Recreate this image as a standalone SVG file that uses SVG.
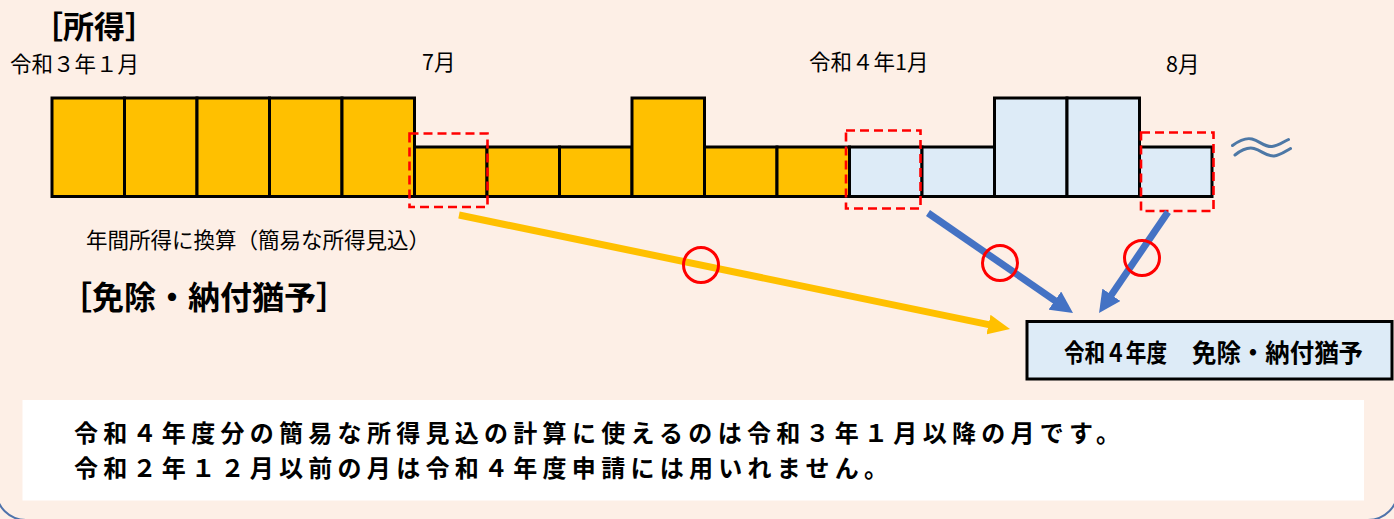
<svg xmlns="http://www.w3.org/2000/svg" width="1394" height="519" viewBox="0 0 1394 519">
<style>
.jp{font-family:"Noto Sans CJK JP","Noto Sans",sans-serif;fill:#000}
.b{font-weight:700}
.yb{fill:#FFC000;stroke:#000;stroke-width:3}
.bb{fill:#DDEBF7;stroke:#000;stroke-width:3}
.dash{fill:none;stroke:#FF0000;stroke-width:2.6;stroke-dasharray:9 5}
.ring{fill:none;stroke:#FF0000;stroke-width:3}
.wave{fill:none;stroke:#4D78A6;stroke-width:3;stroke-linecap:round}
</style>
<defs>
<marker id="ahY" markerUnits="userSpaceOnUse" markerWidth="22" markerHeight="20" refX="4" refY="10" orient="auto" viewBox="0 0 22 20"><path d="M0,0 L22,10 L0,20 z" fill="#FFC000"/></marker>
<marker id="ahB" markerUnits="userSpaceOnUse" markerWidth="22" markerHeight="22" refX="4" refY="11" orient="auto" viewBox="0 0 22 22"><path d="M0,0 L22,11 L0,22 z" fill="#4472C4"/></marker>
</defs>
<rect x="0" y="0" width="1394" height="519" fill="#FDEFE6"/>
<path d="M-4,490 A30,30 0 0 0 26,520 M1368,520 A30,30 0 0 0 1398,490" fill="none" stroke="#4F73AB" stroke-width="2"/>

<g id="title-income"><text class="jp b" x="32" y="37.5" font-size="31">［所得］</text></g>
<g id="label-r3-jan"><text class="jp" x="10" y="72" font-size="21.5">令和３年１月</text></g>
<g id="label-jul"><text class="jp" x="422" y="70" font-size="21.5">7月</text></g>
<g id="label-r4-jan"><text class="jp" x="809" y="70" font-size="21.5">令和４年1月</text></g>
<g id="label-aug"><text class="jp" x="1166" y="72" font-size="21.5">8月</text></g>

<g id="bars">
<g id="bar-01"><rect class="yb" x="52" y="98" width="72.5" height="98.5"/></g>
<g id="bar-02"><rect class="yb" x="124.5" y="98" width="72.5" height="98.5"/></g>
<g id="bar-03"><rect class="yb" x="197" y="98" width="72.5" height="98.5"/></g>
<g id="bar-04"><rect class="yb" x="269.5" y="98" width="72.5" height="98.5"/></g>
<g id="bar-05"><rect class="yb" x="342" y="98" width="72.5" height="98.5"/></g>
<g id="bar-06"><rect class="yb" x="414.5" y="147" width="72.5" height="49.5"/></g>
<g id="bar-07"><rect class="yb" x="487" y="147" width="72.5" height="49.5"/></g>
<g id="bar-08"><rect class="yb" x="559.5" y="147" width="72.5" height="49.5"/></g>
<g id="bar-09"><rect class="yb" x="632" y="98" width="72.5" height="98.5"/></g>
<g id="bar-10"><rect class="yb" x="704.5" y="147" width="72.5" height="49.5"/></g>
<g id="bar-11"><rect class="yb" x="777" y="147" width="72.5" height="49.5"/></g>
<g id="bar-12"><rect class="bb" x="849.5" y="147" width="72.5" height="49.5"/></g>
<g id="bar-13"><rect class="bb" x="922" y="147" width="72.5" height="49.5"/></g>
<g id="bar-14"><rect class="bb" x="994.5" y="98" width="72.5" height="98.5"/></g>
<g id="bar-15"><rect class="bb" x="1067" y="98" width="72.5" height="98.5"/></g>
<g id="bar-16"><rect class="bb" x="1139.5" y="147" width="72.5" height="49.5"/></g>
</g>

<g id="highlight-jul"><rect class="dash" x="409.5" y="133.5" width="78" height="73.5"/></g>
<g id="highlight-r4-jan"><rect class="dash" x="846" y="130.5" width="74.5" height="78"/></g>
<g id="highlight-aug"><rect class="dash" x="1141" y="132.5" width="72.5" height="78.5"/></g>

<g id="wave-mark">
<path class="wave" d="M1232.5,145.5 C1240,140 1246,137.5 1252,139 C1260,141 1264,147 1272,146.5 C1278,146 1283,142 1288.5,139.5"/>
<path class="wave" d="M1235,155 C1242,149.5 1248,147 1254,148.5 C1262,150.5 1266,156.5 1274,156 C1280,155.5 1285,151.5 1290.5,148.5"/>
</g>

<g id="label-annualize"><text class="jp" x="86" y="248" font-size="21.5">年間所得に換算（簡易な所得見込）</text></g>
<g id="title-exemption"><text class="jp b" x="60" y="308.5" font-size="32">［免除・納付猶予］</text></g>

<g id="connectors">
<line x1="459" y1="215" x2="992.4" y2="325.4" stroke="#FFC000" stroke-width="7" marker-end="url(#ahY)"/>
<line x1="928" y1="213" x2="1058.2" y2="302.8" stroke="#4472C4" stroke-width="7" marker-end="url(#ahB)"/>
<line x1="1168" y1="212" x2="1109.2" y2="298.1" stroke="#4472C4" stroke-width="7" marker-end="url(#ahB)"/>
</g>

<g id="ok-marks">
<circle class="ring" cx="701" cy="265" r="17.5"/>
<circle class="ring" cx="1000" cy="263" r="17.5"/>
<circle class="ring" cx="1142" cy="258" r="17.5"/>
</g>

<g id="target-box">
<rect x="1027" y="321.5" width="365" height="57.5" fill="#DDEBF7" stroke="#000" stroke-width="3"/>
<text class="jp b" y="361.5" font-size="25.5"><tspan x="1064" textLength="103" lengthAdjust="spacingAndGlyphs">令和４年度</tspan><tspan x="1192" textLength="171" lengthAdjust="spacingAndGlyphs">免除・納付猶予</tspan></text>
</g>

<g id="note-box">
<rect x="22.5" y="400" width="1341.5" height="100.5" fill="#FFFFFF"/>
<text class="jp b" x="74" y="441.5" font-size="24" textLength="1046" lengthAdjust="spacing">令和４年度分の簡易な所得見込の計算に使えるのは令和３年１月以降の月です。</text>
<text class="jp b" x="74" y="476.5" font-size="24" textLength="814" lengthAdjust="spacing">令和２年１２月以前の月は令和４年度申請には用いれません。</text>
</g>
</svg>
